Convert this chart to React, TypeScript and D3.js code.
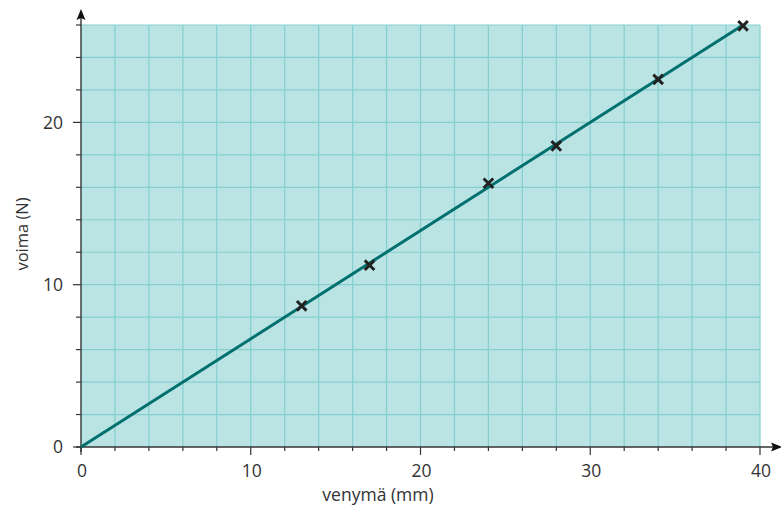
import * as d3 from 'd3';
import React, { useRef, useEffect } from 'react';

// measurements: stretch (mm) vs force (N)
const venyma = [13, 17, 24, 28, 34, 39];
const voima = [8.7, 11.2, 16.25, 18.55, 22.65, 25.95];
// fitted line end points
const fitX = [0, 39];
const fitY = [0, 26];
const xTickLabels = [0, 10, 20, 30, 40];
const yTickLabels = [0, 10, 20];

const W = 781, H = 509;
const margin = { top: 25, right: 21, bottom: 62, left: 81 };
const FONT = '"Open Sans", "Noto Sans", sans-serif';

function App() {
  const ref = useRef<SVGSVGElement>(null);

  useEffect(() => {
    const svg = d3.select(ref.current);
    svg.selectAll('*').remove();

    const w = W - margin.left - margin.right;
    const h = H - margin.top - margin.bottom;

    const x = d3.scaleLinear().domain([0, 40]).range([0, w]);
    const y = d3.scaleLinear().domain([0, 26]).range([h, 0]);

    const g = svg.append('g').attr('transform', `translate(${margin.left},${margin.top})`);

    // background
    g.append('rect')
      .attr('x', 0).attr('y', 0)
      .attr('width', w).attr('height', h)
      .attr('fill', '#bae3e4');

    const gridColor = '#85cfcf';
    const xGrid = d3.range(2, 41, 2);
    const yGrid = d3.range(2, 27, 2);
    g.append('g').selectAll('line').data(xGrid).enter().append('line')
      .attr('x1', d => x(d)).attr('x2', d => x(d))
      .attr('y1', 0).attr('y2', h)
      .attr('stroke', gridColor).attr('stroke-width', 1.2);
    g.append('g').selectAll('line').data(yGrid).enter().append('line')
      .attr('x1', 0).attr('x2', w)
      .attr('y1', d => y(d)).attr('y2', d => y(d))
      .attr('stroke', gridColor).attr('stroke-width', 1.2);

    const axisColor = '#333';

    // x axis
    const xAxis = g.append('g').attr('transform', `translate(0,${h})`);
    xAxis.append('line')
      .attr('x1', -5).attr('x2', w + 15)
      .attr('y1', 0).attr('y2', 0)
      .attr('stroke', axisColor).attr('stroke-width', 1.4);
    xAxis.append('path')
      .attr('d', `M${w + 22},0 L${w + 11},-4.5 L${w + 13},0 L${w + 11},4.5 Z`)
      .attr('fill', '#111');
    xAxis.selectAll('.xt').data(d3.range(0, 41, 2)).enter().append('line')
      .attr('x1', d => x(d)).attr('x2', d => x(d))
      .attr('y1', 0).attr('y2', d => (d % 10 === 0 ? 8 : 4))
      .attr('stroke', axisColor).attr('stroke-width', 1.2);
    xAxis.selectAll('text').data(xTickLabels).enter().append('text')
      .attr('x', d => x(d) + 1).attr('y', 30)
      .attr('text-anchor', 'middle')
      .attr('font-family', FONT).attr('font-size', 17.5)
      .attr('fill', axisColor)
      .text(d => d);

    // y axis
    const yAxis = g.append('g');
    yAxis.append('line')
      .attr('x1', 0).attr('x2', 0)
      .attr('y1', h + 5).attr('y2', -10)
      .attr('stroke', axisColor).attr('stroke-width', 1.4);
    yAxis.append('path')
      .attr('d', `M0,-16 L-4.5,-5 L0,-7 L4.5,-5 Z`)
      .attr('fill', '#111');
    yAxis.selectAll('.yt').data(d3.range(0, 27, 2)).enter().append('line')
      .attr('x1', d => (d % 10 === 0 ? -8 : -5)).attr('x2', 0)
      .attr('y1', d => y(d)).attr('y2', d => y(d))
      .attr('stroke', axisColor).attr('stroke-width', 1.2);
    yAxis.selectAll('text').data(yTickLabels).enter().append('text')
      .attr('x', -18).attr('y', d => y(d))
      .attr('dy', '0.36em')
      .attr('text-anchor', 'end')
      .attr('font-family', FONT).attr('font-size', 17.5)
      .attr('fill', axisColor)
      .text(d => d);

    // axis titles
    svg.append('text')
      .attr('x', 378).attr('y', 501)
      .attr('text-anchor', 'middle')
      .attr('font-family', FONT).attr('font-size', 17.5)
      .attr('fill', axisColor)
      .text('venymä (mm)');
    svg.append('text')
      .attr('transform', `translate(28,234) rotate(-90)`)
      .attr('text-anchor', 'middle')
      .attr('font-family', FONT).attr('font-size', 16.5)
      .attr('fill', axisColor)
      .text('voima (N)');

    // fitted line
    const line = d3.line<number>()
      .x((d, i) => x(fitX[i]))
      .y(d => y(d));
    g.append('path')
      .datum(fitY)
      .attr('d', line)
      .attr('fill', 'none')
      .attr('stroke', '#00706e')
      .attr('stroke-width', 3);

    // x markers
    const s = 4.8;
    g.append('g').selectAll('path').data(venyma).enter().append('path')
      .attr('d', (d, i) => {
        const cx = x(d), cy = y(voima[i]);
        return `M${cx - s},${cy - s}L${cx + s},${cy + s}M${cx - s},${cy + s}L${cx + s},${cy - s}`;
      })
      .attr('stroke', '#222')
      .attr('stroke-width', 3)
      .attr('fill', 'none');
  }, []);

  return (
    <svg ref={ref} width={W} height={H}
      style={{ position: 'absolute', left: 0, top: 0, display: 'block', background: '#fff' }} />
  );
}

export default App;
